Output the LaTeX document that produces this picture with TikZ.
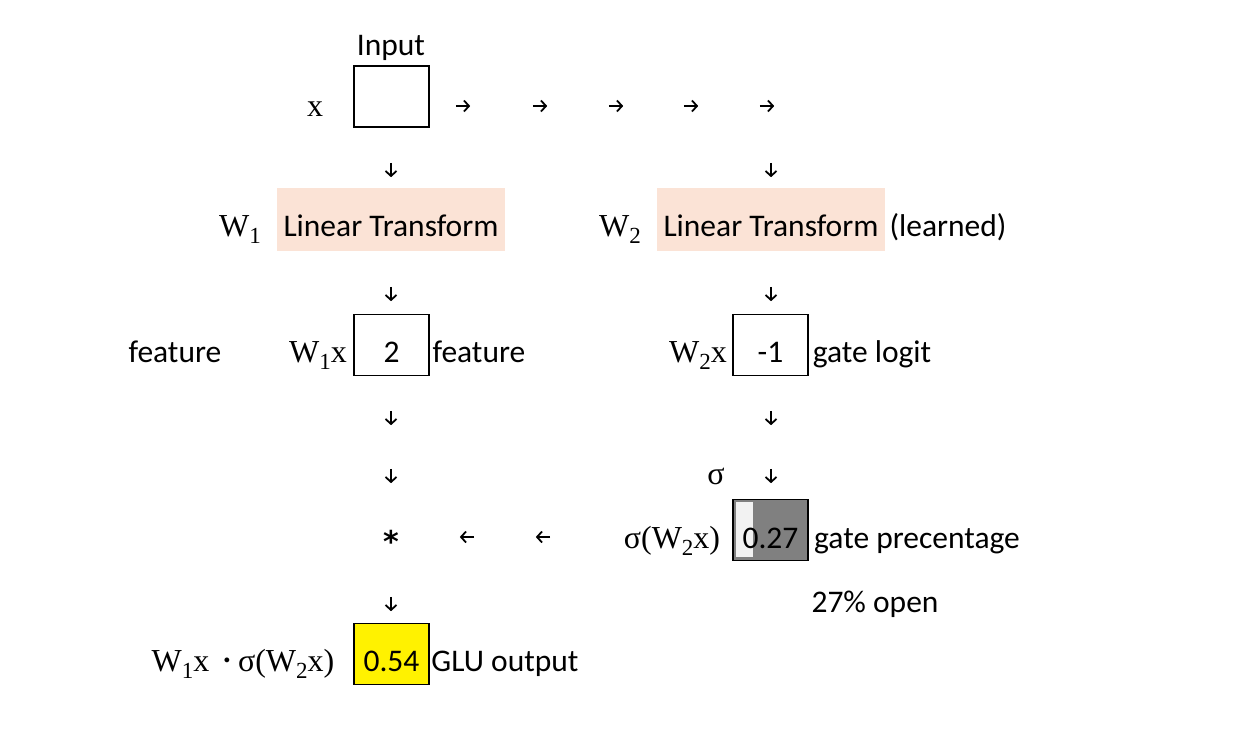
\documentclass[tikz,border=0pt]{standalone}
\usepackage{fontspec}
\usetikzlibrary{arrows.meta}
\setmainfont{Carlito}
\newfontfamily\serif{Liberation Serif}
\newfontfamily\symfont{DejaVu Sans}
\definecolor{peach}{HTML}{FBE3D6}
\definecolor{barfill}{HTML}{F2F2F2}
\definecolor{gatefill}{HTML}{808080}
\newcommand{\subsc}[1]{\raisebox{-0.22em}{\scalebox{0.72}{#1}}}

\begin{document}
\begin{tikzpicture}[x=1pt, y=-1pt,
  every node/.style={inner sep=0pt, anchor=base, font=\fontsize{31.5}{36}\selectfont},
  cell/.style={draw, line width=1.4pt, minimum width=75pt, minimum height=61pt, anchor=center},
  harr/.style={minimum width=14pt, minimum height=11pt, anchor=center},
  varr/.style={minimum width=11pt, minimum height=14pt, anchor=center},
  glyph/.style={line width=1.8pt, -{Straight Barb[length=5pt,width=11pt,line width=1.8pt]}},
  sym/.style={font=\serif\fontsize{32}{36}\selectfont}]
\useasboundingbox (0,0) rectangle (1236,742);
% input row
\node (in) at (391,55) {Input};
\node[sym] (x) at (315,116) {x};
\node[cell] (inbox) at (391.5,96.5) {};
\foreach \i/\xx in {1/463,2/540,3/616,4/691,5/767} {
  \node[harr] (R\i) at (\xx,106) {};
  \draw[glyph] (R\i.west) -- (R\i.east);
}
\foreach \i/\xx/\yy in {1/391/170,2/771/170,3/391/294,4/771/294,5/391/418,6/771/418,7/391/476,8/771/476,9/391/604} {
  \node[varr] (D\i) at (\xx,\yy) {};
  \draw[glyph] (D\i.north) -- (D\i.south);
}
\foreach \i/\xx in {1/467,2/543} {
  \node[harr] (L\i) at (\xx,537) {};
  \draw[glyph] (L\i.east) -- (L\i.west);
}
% linear transforms
\fill[peach] (277,188) rectangle (505,251);
\fill[peach] (657,188) rectangle (885,251);
\node[sym] (W1) at (240,236) {W\subsc{1}};
\node (LT1) at (391,236) {Linear Transform};
\node[sym] (W2) at (620,236) {W\subsc{2}};
\node (LT2) at (771,236) {Linear Transform};
\node (learned) at (948,236) {(learned)};
% feature and gate logit
\node (feat0) at (175,362) {feature};
\node[sym] (W1x) at (318,362) {W\subsc{1}x};
\node[cell] (featbox) at (391.5,345) {};
\node (two) at (391.5,362) {2};
\node (feat) at (479,362) {feature};
\node[sym] (W2x) at (698,362) {W\subsc{2}x};
\node[cell] (logitbox) at (770.5,345) {};
\node (mone) at (770.5,362) {-1};
\node (logit) at (872,362) {gate logit};
\node[sym] (sig) at (716,484) {σ};
% gate
\node[anchor=center, font=\symfont\bfseries\fontsize{30}{34}\selectfont] (mul) at (391,541) {*};
\node[sym] (sigW2x) at (672,548) {σ(W\subsc{2}x)};
\fill[gatefill] (733,499) rectangle (808,561);
\fill[barfill] (736,502) rectangle (753,557);
\node[cell] (gatebox) at (770.5,530) {};
\node (gate) at (770.5,548) {0.27};
\node (gatepct) at (917,548) {gate precentage};
\node (open) at (875,612) {27\% open};
% output
\node[sym] (prod) at (243,671) {W\subsc{1}x\hspace{0.45em}\raisebox{0.22em}{\scalebox{0.5}{$\bullet$}} σ(W\subsc{2}x)};
\node[cell, fill=yellow] (outbox) at (391.5,654) {};
\node (out) at (391.5,671) {0.54};
\node (glu) at (505,671) {GLU output};
\end{tikzpicture}
\end{document}
